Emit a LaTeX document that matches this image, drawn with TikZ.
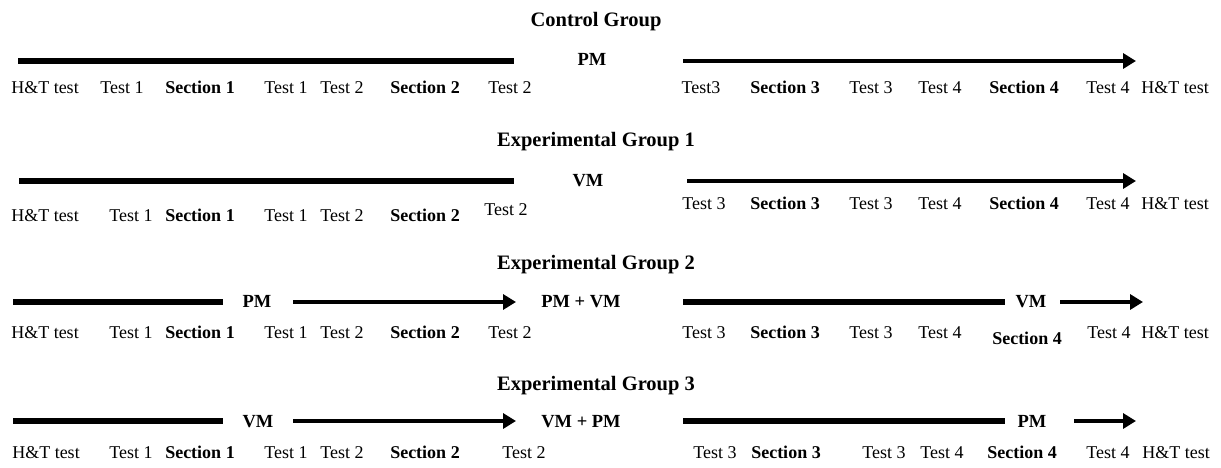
\documentclass[tikz,border=0pt]{standalone}
\usepackage{fontspec}
\setmainfont{Liberation Serif}
\usetikzlibrary{arrows.meta}
\tikzset{
  lbl/.style={inner sep=0pt, anchor=base, font=\fontsize{18}{20}\selectfont},
  modelbl/.style={inner sep=0pt, anchor=base, font=\fontsize{18.5}{20}\selectfont\bfseries},
  grouptitle/.style={inner sep=0pt, anchor=base, font=\fontsize{20.5}{22}\selectfont\bfseries},
  bar/.style={line width=5.5pt},
  arr/.style={line width=4pt, -{Triangle[length=13pt,width=15pt]}}
}
\begin{document}
\begin{tikzpicture}[x=1pt,y=-1pt]
\useasboundingbox (0,0) rectangle (1221,468);
% group titles
\node[grouptitle] (t1) at (596,27) {Control Group};
\node[grouptitle] (t2) at (596,147) {Experimental Group 1};
\node[grouptitle] (t3) at (596,269) {Experimental Group 2};
\node[grouptitle] (t4) at (596,390) {Experimental Group 3};
% control group
\coordinate (a1) at (18,61); \coordinate (b1) at (514,61);
\coordinate (c1) at (683,61); \coordinate (d1) at (1136,61);
\draw[bar] (a1) -- (b1);
\node[modelbl] (m1) at (592,66) {PM};
\draw[arr] (c1) -- (d1);
\foreach \x/\t [count=\i] in {45/H\&T test, 122/Test 1, 200/\textbf{Section 1}, 286/Test 1, 342/Test 2,
  425/\textbf{Section 2}, 510/Test 2, 701/Test3, 785/\textbf{Section 3}, 871/Test 3, 940/Test 4,
  1024/\textbf{Section 4}, 1108/Test 4, 1175/H\&T test}
  \node[lbl] (r1l\i) at (\x,94) {\t};
% experimental group 1
\coordinate (a2) at (19,181); \coordinate (b2) at (514,181);
\coordinate (c2) at (687,181); \coordinate (d2) at (1136,181);
\draw[bar] (a2) -- (b2);
\node[modelbl] (m2) at (588,186) {VM};
\draw[arr] (c2) -- (d2);
\foreach \x/\t [count=\i] in {45/H\&T test, 131/Test 1, 200/\textbf{Section 1}, 286/Test 1, 342/Test 2,
  425/\textbf{Section 2}}
  \node[lbl] (r2l\i) at (\x,221) {\t};
\node[lbl] (r2l7) at (506,215) {Test 2};
\foreach \x/\t [count=\i from 8] in {704/Test 3, 785/\textbf{Section 3}, 871/Test 3, 940/Test 4,
  1024/\textbf{Section 4}, 1108/Test 4, 1175/H\&T test}
  \node[lbl] (r2l\i) at (\x,209) {\t};
% experimental group 2
\coordinate (a3) at (13,302); \coordinate (b3) at (223,302);
\coordinate (c3) at (293,302); \coordinate (d3) at (516,302);
\coordinate (e3) at (683,302); \coordinate (f3) at (1005,302);
\coordinate (g3) at (1060,302); \coordinate (h3) at (1143,302);
\draw[bar] (a3) -- (b3);
\node[modelbl] (m3a) at (257,307) {PM};
\draw[arr] (c3) -- (d3);
\node[modelbl] (m3b) at (581,307) {PM + VM};
\draw[bar] (e3) -- (f3);
\node[modelbl] (m3c) at (1031,307) {VM};
\draw[arr] (g3) -- (h3);
\foreach \x/\t [count=\i] in {45/H\&T test, 131/Test 1, 200/\textbf{Section 1}, 286/Test 1, 342/Test 2,
  425/\textbf{Section 2}, 510/Test 2, 704/Test 3, 785/\textbf{Section 3}, 871/Test 3, 940/Test 4}
  \node[lbl] (r3l\i) at (\x,338) {\t};
\node[lbl] (r3l12) at (1027,344) {\textbf{Section 4}};
\node[lbl] (r3l13) at (1109,338) {Test 4};
\node[lbl] (r3l14) at (1175,338) {H\&T test};
% experimental group 3
\coordinate (a4) at (13,421); \coordinate (b4) at (223,421);
\coordinate (c4) at (293,421); \coordinate (d4) at (516,421);
\coordinate (e4) at (683,421); \coordinate (f4) at (1005,421);
\coordinate (g4) at (1074,421); \coordinate (h4) at (1136,421);
\draw[bar] (a4) -- (b4);
\node[modelbl] (m4a) at (258,427) {VM};
\draw[arr] (c4) -- (d4);
\node[modelbl] (m4b) at (581,427) {VM + PM};
\draw[bar] (e4) -- (f4);
\node[modelbl] (m4c) at (1032,427) {PM};
\draw[arr] (g4) -- (h4);
\foreach \x/\t [count=\i] in {46/H\&T test, 131/Test 1, 200/\textbf{Section 1}, 286/Test 1, 342/Test 2,
  425/\textbf{Section 2}, 524/Test 2, 715/Test 3, 786/\textbf{Section 3}, 884/Test 3, 942/Test 4,
  1022/\textbf{Section 4}, 1108/Test 4, 1176/H\&T test}
  \node[lbl] (r4l\i) at (\x,458) {\t};
\end{tikzpicture}
\end{document}
